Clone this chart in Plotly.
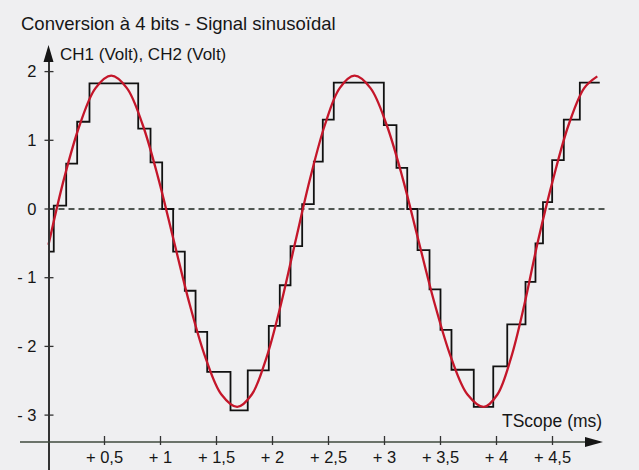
import plotly.graph_objects as go

# ---------------- data ----------------
# sampled-and-held (4-bit quantized) signal, CH2
STEP_T = [0.0, 0.047, 0.158, 0.256, 0.366, 0.801, 0.911, 1.015, 1.113, 1.217,
          1.313, 1.417, 1.625, 1.779, 1.967, 2.065, 2.161, 2.265, 2.369, 2.449,
          2.547, 2.994, 3.107, 3.203, 3.295, 3.402, 3.500, 3.598, 3.797, 3.971,
          4.096, 4.259, 4.348, 4.415, 4.497, 4.601, 4.744, 4.922]
STEP_V = [-0.62, 0.05, 0.66, 1.27, 1.83, 1.17, 0.68, 0.0, -0.62, -1.19,
          -1.79, -2.37, -2.93, -2.35, -1.70, -1.11, -0.54, 0.07, 0.69, 1.30,
          1.84, 1.22, 0.60, 0.0, -0.60, -1.17, -1.76, -2.34, -2.88, -2.29,
          -1.68, -1.06, -0.50, 0.10, 0.71, 1.30, 1.84, 1.84]

# sinusoidal signal, CH1
SINE_T = [0.0, 0.14, 0.28, 0.42, 0.56, 0.70, 0.84, 0.98, 1.12, 1.261, 1.403,
          1.544, 1.685, 1.815, 1.945, 2.075, 2.205, 2.337, 2.469, 2.600, 2.732,
          2.875, 3.018, 3.162, 3.305, 3.45, 3.596, 3.741, 3.887, 4.008, 4.129,
          4.249, 4.37, 4.508, 4.645, 4.783, 4.90]
SINE_V = [-0.52, 0.45, 1.23, 1.76, 1.94, 1.76, 1.23, 0.45, -0.47, -1.39, -2.17,
          -2.70, -2.88, -2.70, -2.17, -1.39, -0.47, 0.45, 1.23, 1.76, 1.94,
          1.76, 1.23, 0.45, -0.47, -1.39, -2.17, -2.70, -2.88, -2.70, -2.17,
          -1.39, -0.47, 0.45, 1.23, 1.76, 1.93]

ZERO_T = [0.0, 5.0]
ZERO_V = [0.0, 0.0]

X_TICKS = [0.5, 1.0, 1.5, 2.0, 2.5, 3.0, 3.5, 4.0, 4.5]
X_TICK_TEXT = ["+ 0,5", "+ 1", "+ 1,5", "+ 2", "+ 2,5", "+ 3", "+ 3,5", "+ 4", "+ 4,5"]
Y_TICKS = [2, 1, 0, -1, -2, -3]
Y_TICK_TEXT = ["2", "1", "0", "- 1", "- 2", "- 3"]

TITLE = "Conversion à 4 bits - Signal sinusoïdal"
Y_LABEL = "CH1 (Volt), CH2 (Volt)"
X_LABEL = "TScope (ms)"

# ---------------- geometry ----------------
W, H = 639, 470
X0_PX, PX_PER_MS = 48.5, 112.0      # t = 0 at pixel 48.5
Y0_PX, PX_PER_V = 209.0, 68.7       # v = 0 at pixel 209
XAX_PX = 442.0                      # pixel row of the time axis
XDOM = (20.0, 607.0)
YDOM_TOP = 52.0

def t_of(px):
    return (px - X0_PX) / PX_PER_MS

def v_of(py):
    return (Y0_PX - py) / PX_PER_V

AX_V = v_of(XAX_PX)
FONT = "Liberation Sans, Arial, Helvetica, sans-serif"
BG = "#efeff1"
INK = "#161616"

def px(x):
    return x / W

def py(y):
    return 1 - y / H

fig = go.Figure()

# zero reference line
fig.add_trace(go.Scatter(x=ZERO_T, y=ZERO_V, mode="lines",
                         line=dict(color="#1e261f", width=1.4, dash="6px,4px"),
                         hoverinfo="skip", showlegend=False))
# staircase (quantized)
fig.add_trace(go.Scatter(x=STEP_T, y=STEP_V, mode="lines", line_shape="hv",
                         line=dict(color="#111111", width=1.8),
                         showlegend=False))
# sine
fig.add_trace(go.Scatter(x=SINE_T, y=SINE_V, mode="lines", line_shape="spline",
                         line=dict(color="#c4162a", width=2.3, smoothing=1.0),
                         showlegend=False))

shapes = []
# x-axis line (stops at arrow tip)
shapes.append(dict(type="line", xref="paper", yref="paper",
                   x0=px(20), x1=px(600), y0=py(XAX_PX), y1=py(XAX_PX),
                   line=dict(color="#3f4a3c", width=1.5)))
# tick marks crossing the axes
for t in X_TICKS:
    shapes.append(dict(type="line", xref="x", yref="y", x0=t, x1=t,
                       y0=AX_V + 6 / PX_PER_V, y1=AX_V - 3 / PX_PER_V,
                       line=dict(color="#333333", width=1.3)))
for v in Y_TICKS:
    shapes.append(dict(type="line", xref="x", yref="y",
                       x0=t_of(X0_PX - 4), x1=t_of(X0_PX + 5), y0=v, y1=v,
                       line=dict(color="#333333", width=1.3)))
# arrow heads
shapes.append(dict(type="path", xref="paper", yref="paper",
                   path=f"M {px(603)} {py(XAX_PX)} L {px(585)} {py(XAX_PX-5)} L {px(585)} {py(XAX_PX+5)} Z",
                   fillcolor=INK, line=dict(width=0)))
shapes.append(dict(type="path", xref="paper", yref="paper",
                   path=f"M {px(X0_PX)} {py(45)} L {px(X0_PX-5)} {py(62)} L {px(X0_PX+5)} {py(62)} Z",
                   fillcolor=INK, line=dict(width=0)))

annotations = [
    dict(text=TITLE, x=px(19), y=py(23), xref="paper", yref="paper",
         xanchor="left", yanchor="middle", showarrow=False,
         font=dict(family=FONT, size=18.5, color=INK)),
    dict(text=Y_LABEL, x=px(58), y=py(54), xref="paper", yref="paper",
         xanchor="left", yanchor="middle", showarrow=False,
         font=dict(family=FONT, size=17, color=INK)),
    dict(text=X_LABEL, x=px(604), y=py(421), xref="paper", yref="paper",
         xanchor="right", yanchor="middle", showarrow=False,
         font=dict(family=FONT, size=17.5, color=INK)),
]

fig.update_layout(
    width=W, height=H,
    margin=dict(l=0, r=0, t=0, b=0),
    paper_bgcolor=BG, plot_bgcolor=BG,
    showlegend=False,
    shapes=shapes, annotations=annotations,
    xaxis=dict(domain=[px(XDOM[0]), px(XDOM[1])],
               range=[t_of(XDOM[0]), t_of(XDOM[1])],
               anchor="free", position=py(XAX_PX),
               showline=False, showgrid=False, zeroline=False, ticks="",
               tickmode="array", tickvals=X_TICKS, ticktext=X_TICK_TEXT,
               ticklabelstandoff=3,
               tickfont=dict(family=FONT, size=16.5, color=INK)),
    yaxis=dict(domain=[0, py(YDOM_TOP)],
               range=[v_of(H), v_of(YDOM_TOP)],
               anchor="free", position=px(X0_PX),
               showline=True, linecolor="#333333", linewidth=1.5,
               showgrid=False, zeroline=False, ticks="",
               tickmode="array", tickvals=Y_TICKS, ticktext=Y_TICK_TEXT,
               ticklabelstandoff=8,
               tickfont=dict(family=FONT, size=16.5, color=INK)),
)

fig.write_html("out.html")
